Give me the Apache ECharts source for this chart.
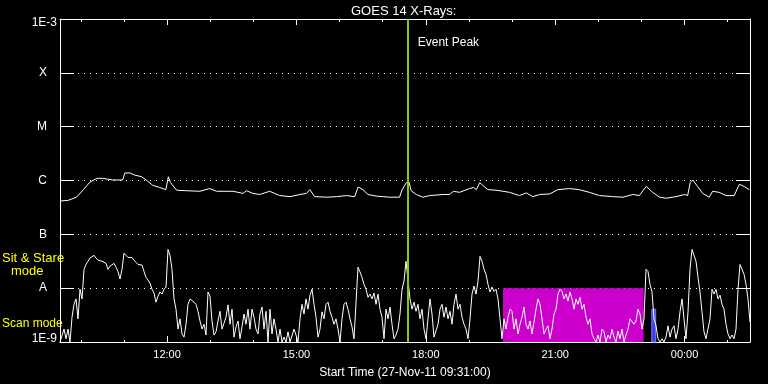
<!DOCTYPE html>
<html><head><meta charset="utf-8">
<script src="https://cdn.jsdelivr.net/npm/echarts@6/dist/echarts.min.js"></script>
<style>html,body{margin:0;padding:0;background:#000;}#c{width:768px;height:384px;}</style>
</head><body><div id="c"></div>
<script>
// ---- data ----
const TITLE = 'GOES 14 X-Rays:';
const X_NAME = 'Start Time (27-Nov-11 09:31:00)';
const T_START = 9 + 31 / 60;          // 09:31 (hours of day)
const T_END = T_START + 16;           // 01:31 next day
const MAJOR_TICKS = [12, 15, 18, 21, 24];
const MINOR_TICKS = [10, 11, 12, 13, 14, 15, 16, 17, 18, 19, 20, 21, 22, 23, 24, 25];
const Y_EXP = [-9, -8, -7, -6, -5, -4, -3];
const Y_TICK_LABELS = ['1E-9', 'A', 'B', 'C', 'M', 'X', '1E-3'];
const EVENT_PEAK_T = 17.58;
const EVENT_LABEL = 'Event Peak';
const SCAN_WINDOW = [19.79, 23.05];   // magenta block (hours)
const SCAN_LEVEL = [-9, -8];          // log10 flux
const BLUE_WINDOW = [23.24, 23.33];
const BLUE_LEVEL = [-9, -8.39];
const MODE_LABELS = ['Sit & Stare', 'mode', 'Scan mode'];

// long channel (1-8 A): time (hours), log10 flux
const LONG_T = [9.53, 9.70, 9.90, 10.06, 10.21, 10.37, 10.51, 10.74, 10.97, 11.02, 11.14, 11.25, 11.41, 11.53, 11.67, 11.83, 11.97, 12.03, 12.08, 12.22, 12.45, 12.76, 12.99, 13.15, 13.53, 13.76, 13.84, 13.99, 14.15, 14.38, 14.61, 14.85, 15.08, 15.23, 15.31, 15.42, 15.70, 15.93, 16.16, 16.35, 16.43, 16.54, 16.66, 16.85, 17.01, 17.16, 17.39, 17.45, 17.55, 17.61, 17.66, 17.78, 17.93, 18.09, 18.40, 18.55, 18.64, 18.78, 19.01, 19.11, 19.17, 19.25, 19.32, 19.44, 19.63, 19.79, 19.94, 20.17, 20.33, 20.48, 20.64, 20.87, 21.06, 21.33, 21.56, 21.79, 22.03, 22.33, 22.57, 22.80, 22.95, 23.11, 23.26, 23.42, 23.57, 23.80, 24.00, 24.07, 24.13, 24.19, 24.30, 24.42, 24.57, 24.65, 24.80, 24.96, 25.15, 25.27, 25.38, 25.50];
const LONG_LOG = [-6.38, -6.37, -6.31, -6.17, -6.03, -5.96, -5.96, -5.99, -5.99, -5.86, -5.86, -5.90, -5.93, -6.00, -6.09, -6.13, -6.17, -5.93, -6.04, -6.18, -6.19, -6.20, -6.15, -6.20, -6.20, -6.24, -6.19, -6.24, -6.26, -6.20, -6.28, -6.30, -6.26, -6.24, -6.17, -6.30, -6.31, -6.30, -6.28, -6.30, -6.12, -6.17, -6.26, -6.29, -6.30, -6.31, -6.31, -6.17, -6.04, -6.03, -6.19, -6.26, -6.31, -6.28, -6.26, -6.26, -6.20, -6.22, -6.15, -6.13, -6.17, -6.04, -6.09, -6.17, -6.18, -6.20, -6.22, -6.28, -6.23, -6.30, -6.26, -6.25, -6.17, -6.15, -6.17, -6.22, -6.28, -6.30, -6.31, -6.26, -6.28, -6.11, -6.22, -6.31, -6.33, -6.30, -6.26, -6.28, -6.04, -5.99, -6.11, -6.24, -6.31, -6.20, -6.22, -6.28, -6.28, -6.07, -6.11, -6.17];

// short channel (0.5-4 A): regular sampling from T_START, log10 flux
const SHORT_STEP_H = 16 / 345;
const SHORT_LOG = [
-9.00,-9.00,-8.76,-8.94,-8.76,-9.00,-8.54,-8.30,-8.20,-8.57,-8.02,-8.20,-7.65,-7.56,-7.50,-7.44,-7.43,-7.39,-7.44,-7.48,
-7.50,-7.50,-7.52,-7.54,-7.65,-7.59,-7.57,-7.54,-7.61,-7.69,-7.83,-7.65,-7.35,-7.39,-7.43,-7.41,-7.43,-7.48,-7.52,-7.56,
-7.54,-7.57,-7.69,-7.80,-7.85,-7.91,-8.02,-8.09,-8.26,-8.15,-8.07,-8.11,-8.02,-7.98,-7.28,-7.39,-7.65,-8.20,-8.39,-8.76,
-8.57,-8.85,-8.91,-8.67,-8.30,-8.20,-8.20,-8.26,-8.30,-8.43,-8.61,-8.76,-8.67,-8.87,-8.07,-8.15,-8.61,-8.87,-8.81,-8.61,
-8.43,-8.76,-8.76,-8.54,-8.31,-8.67,-8.39,-8.91,-8.72,-8.61,-8.94,-8.72,-8.48,-8.67,-8.39,-8.76,-8.39,-8.54,-8.76,-8.85,
-8.48,-8.35,-8.76,-8.43,-9.00,-8.39,-8.85,-8.57,-8.76,-9.00,-8.76,-9.00,-8.91,-9.00,-8.81,-9.00,-9.00,-8.76,-8.87,-9.00,
-8.57,-8.30,-8.48,-8.20,-8.39,-8.13,-8.02,-8.30,-8.54,-8.91,-8.76,-8.44,-8.57,-8.30,-8.26,-8.43,-8.54,-8.67,-8.57,-8.76,
-9.00,-8.57,-8.30,-8.26,-8.39,-8.57,-8.72,-8.94,-8.91,-7.61,-7.70,-7.80,-7.93,-8.02,-8.17,-8.11,-8.20,-8.09,-8.30,-8.11,
-8.39,-8.54,-8.94,-8.39,-8.57,-8.35,-8.67,-8.94,-8.87,-8.76,-8.48,-8.02,-7.87,-7.50,-7.50,-8.20,-8.39,-8.26,-8.43,-8.30,
-8.57,-8.39,-8.76,-8.94,-8.57,-8.20,-8.48,-8.91,-8.94,-8.67,-8.39,-8.30,-8.54,-8.35,-8.57,-8.43,-8.67,-8.30,-8.11,-8.39,
-8.30,-8.54,-8.67,-8.76,-8.94,-8.57,-8.11,-7.96,-8.11,-7.87,-7.41,-7.50,-7.65,-7.74,-7.93,-8.07,-7.98,-8.06,-8.02,-8.20,
-8.57,-8.94,-8.57,-8.76,-8.54,-8.39,-8.43,-8.76,-8.57,-8.85,-8.67,-8.54,-8.35,-8.67,-8.76,-8.61,-8.85,-8.63,-8.39,-8.20,
-8.30,-8.57,-8.85,-8.76,-8.70,-8.94,-8.76,-8.48,-8.39,-8.11,-8.02,-8.06,-8.20,-8.11,-8.24,-8.07,-8.20,-8.39,-8.20,-8.30,
-8.17,-8.39,-8.30,-8.54,-8.67,-8.57,-8.85,-8.94,-9.00,-8.87,-9.00,-8.76,-8.81,-9.00,-8.87,-8.94,-8.76,-8.91,-9.00,-8.80,
-8.94,-8.76,-9.00,-8.87,-8.76,-8.57,-8.54,-8.67,-8.61,-8.39,-8.48,-8.76,-8.57,-7.65,-7.69,-7.93,-8.07,-8.57,-8.70,-8.94,
-9.00,-8.94,-9.00,-8.91,-8.70,-8.91,-8.76,-8.70,-8.94,-8.76,-8.44,-8.20,-8.57,-8.94,-8.44,-7.65,-7.28,-7.26,-7.50,-7.80,
-8.07,-8.44,-8.81,-8.94,-8.94,-8.57,-8.02,-8.11,-8.02,-8.20,-8.13,-8.30,-8.39,-8.67,-8.85,-8.94,-8.87,-8.94,-8.76,-8.02,
-7.56,-7.65,-7.74,-7.93,-8.20,-8.63
];

// ---- build ----
const pw = e => Math.pow(10, e);
const longData = LONG_T.map((t, i) => [t, pw(LONG_LOG[i])]);
const shortData = SHORT_LOG.map((v, i) => [T_START + i * SHORT_STEP_H, pw(v)]);
const hhmm = h => String(Math.round(h) % 24).padStart(2, '0') + ':00';
const FONT = 'Liberation Sans';
const WHITE = '#ffffff';

const chart = echarts.init(document.getElementById('c'), null, { renderer: 'canvas' });
const gridRect = { left: 60, right: 18, top: 19, bottom: 41 };
chart.setOption({
  backgroundColor: '#000000',
  animation: false,
  title: { text: TITLE, left: 346, top: 0, textStyle: { color: WHITE, fontSize: 13, fontWeight: 'normal', fontFamily: FONT } },
  grid: [Object.assign({}, gridRect), Object.assign({}, gridRect)],
  xAxis: [
    { gridIndex: 0, type: 'value', position: 'bottom', min: T_START, max: T_END,
      axisLine: { show: true, lineStyle: { color: WHITE, width: 1 } },
      axisTick: { show: true, inside: true, length: 6, customValues: MAJOR_TICKS, lineStyle: { color: WHITE } },
      axisLabel: { show: true, customValues: MAJOR_TICKS, formatter: hhmm, color: WHITE, fontSize: 11, fontFamily: FONT, margin: 7 },
      splitLine: { show: false },
      name: X_NAME, nameLocation: 'middle', nameGap: 25,
      nameTextStyle: { color: WHITE, fontSize: 12, fontFamily: FONT } },
    { gridIndex: 0, type: 'value', position: 'top', min: T_START, max: T_END,
      axisLine: { show: true, lineStyle: { color: WHITE, width: 1 } },
      axisTick: { show: true, inside: true, length: 6, customValues: MAJOR_TICKS, lineStyle: { color: WHITE } },
      axisLabel: { show: false }, splitLine: { show: false } },
    { gridIndex: 1, type: 'value', position: 'bottom', min: T_START, max: T_END,
      axisLine: { show: false },
      axisTick: { show: true, inside: true, length: 3, customValues: MINOR_TICKS, lineStyle: { color: WHITE } },
      axisLabel: { show: false }, splitLine: { show: false } },
    { gridIndex: 1, type: 'value', position: 'top', min: T_START, max: T_END,
      axisLine: { show: false },
      axisTick: { show: true, inside: true, length: 3, customValues: MINOR_TICKS, lineStyle: { color: WHITE } },
      axisLabel: { show: false }, splitLine: { show: false } }
  ],
  yAxis: [
    { gridIndex: 0, type: 'log', logBase: 10, position: 'left', min: pw(-9), max: pw(-3), splitNumber: 6,
      axisLine: { show: true, lineStyle: { color: WHITE, width: 1 } },
      axisTick: { show: true, inside: true, length: 14, lineStyle: { color: WHITE } },
      axisLabel: {
        show: true, margin: 3, color: WHITE, fontSize: 12, fontFamily: FONT,
        formatter: v => {
          const e = Math.round(Math.log10(v));
          const t = Y_TICK_LABELS[Y_EXP.indexOf(e)];
          if (t === undefined) return '';
          if (e === -3) return '{top|' + t + '}';
          if (e === -9) return '{bot|' + t + '}';
          return '{cls|' + t + '}';
        },
        rich: {
          top: { padding: [8, 0, 0, 0], color: WHITE, fontSize: 12, fontFamily: FONT },
          bot: { padding: [0, 0, 6, 0], color: WHITE, fontSize: 12, fontFamily: FONT },
          cls: { padding: [0, 10, 0, 0], color: WHITE, fontSize: 12, fontFamily: FONT }
        }
      },
      splitLine: { show: true, lineStyle: { color: WHITE, width: 1, type: [1, 5] } } },
    { gridIndex: 0, type: 'log', logBase: 10, position: 'right', min: pw(-9), max: pw(-3), splitNumber: 6,
      axisLine: { show: true, lineStyle: { color: WHITE, width: 1 } },
      axisTick: { show: true, inside: true, length: 14, lineStyle: { color: WHITE } },
      axisLabel: { show: false }, splitLine: { show: false } },
    { gridIndex: 1, type: 'value', show: false, min: 0, max: 1 }
  ],
  series: [
    { type: 'line', name: 'scan', xAxisIndex: 0, yAxisIndex: 0, data: [], z: 1, silent: true,
      markArea: { silent: true, label: { show: false },
        data: [
          [{ xAxis: SCAN_WINDOW[0], yAxis: pw(SCAN_LEVEL[0]), itemStyle: { color: '#cc00cc', borderWidth: 0 } },
           { xAxis: SCAN_WINDOW[1], yAxis: pw(SCAN_LEVEL[1]) }],
          [{ xAxis: BLUE_WINDOW[0], yAxis: pw(BLUE_LEVEL[0]), itemStyle: { color: '#3c3cf0', borderColor: '#7a7aff', borderWidth: 1 } },
           { xAxis: BLUE_WINDOW[1], yAxis: pw(BLUE_LEVEL[1]) }]
        ] } },
    { type: 'line', name: 'short', xAxisIndex: 0, yAxisIndex: 0, data: shortData, z: 3,
      showSymbol: false, symbol: 'none', clip: true,
      lineStyle: { color: WHITE, width: 1 } },
    { type: 'line', name: 'long', xAxisIndex: 0, yAxisIndex: 0, data: longData, z: 3,
      showSymbol: false, symbol: 'none', clip: true,
      lineStyle: { color: WHITE, width: 1 } },
    { type: 'line', name: 'event', xAxisIndex: 0, yAxisIndex: 0, data: [], z: 5, silent: true,
      markLine: { silent: true, symbol: 'none', label: { show: false },
        lineStyle: { color: '#8cc800', width: 2, type: 'solid' },
        data: [{ xAxis: EVENT_PEAK_T }] } }
  ]
});

// annotation texts
const evX = chart.convertToPixel({ xAxisIndex: 0 }, EVENT_PEAK_T);
chart.setOption({
  graphic: [
    { type: 'text', left: evX + 10, top: 37, style: { text: EVENT_LABEL, fill: WHITE, font: '12px ' + FONT } },
    { type: 'text', left: 2, top: 252, style: { text: MODE_LABELS[0], fill: '#ffff00', font: '13px ' + FONT } },
    { type: 'text', left: 11, top: 265, style: { text: MODE_LABELS[1], fill: '#ffff00', font: '13px ' + FONT } },
    { type: 'text', left: 2, top: 318, style: { text: MODE_LABELS[2], fill: '#ffff00', font: '12px ' + FONT } }
  ]
});
</script></body></html>
